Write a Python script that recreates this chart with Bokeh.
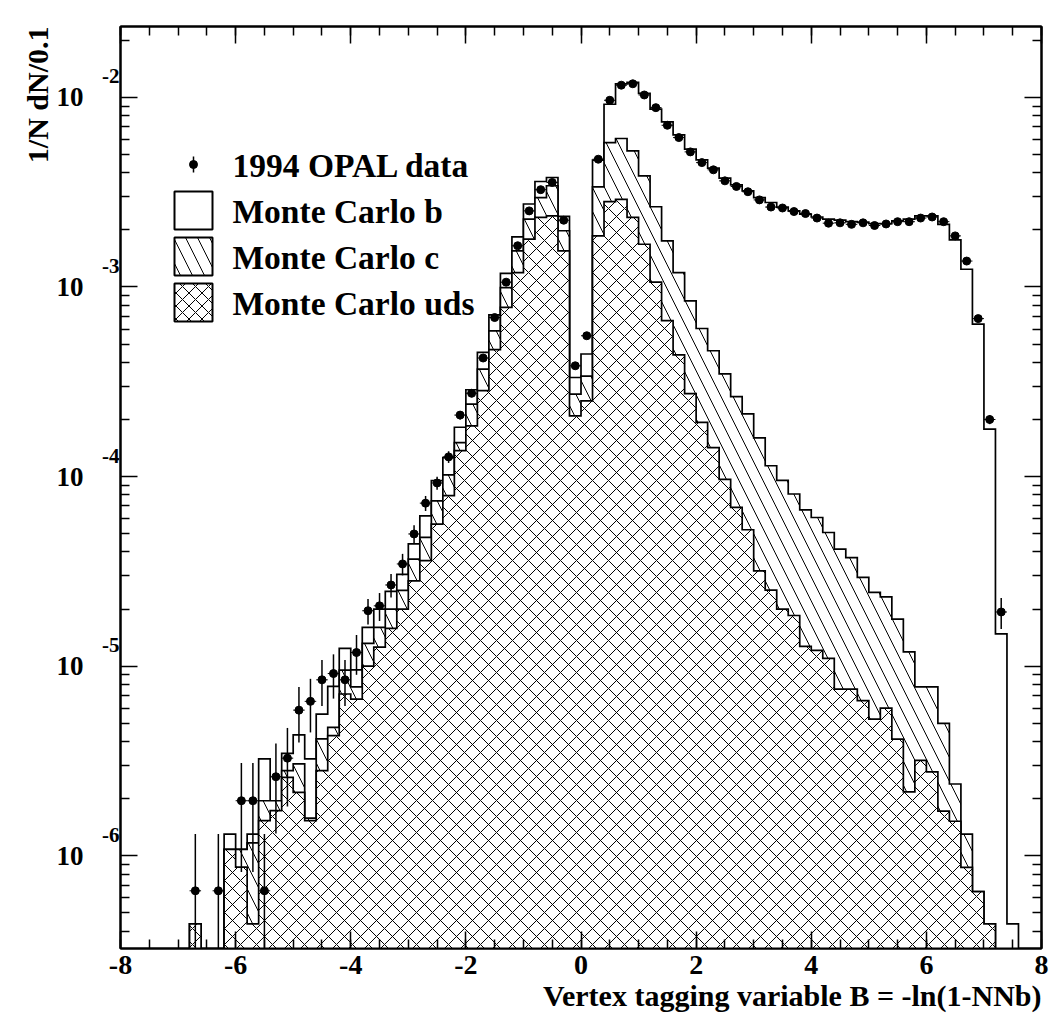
import math
from bokeh.plotting import figure
from bokeh.models import Range1d, FixedTicker, LinearAxis, LogAxis, Title, Grid
from bokeh.core.properties import value
from bokeh.embed import file_html
from bokeh.resources import INLINE

# ---------------- data ----------------
bin_centers = [
    -6.9, -6.7, -6.5, -6.3, -6.1, -5.9, -5.7, -5.5, -5.3, -5.1,
    -4.9, -4.7, -4.5, -4.3, -4.1, -3.9, -3.7, -3.5, -3.3, -3.1,
    -2.9, -2.7, -2.5, -2.3, -2.1, -1.9, -1.7, -1.5, -1.3, -1.1,
    -0.9, -0.7, -0.5, -0.3, -0.1, 0.1, 0.3, 0.5, 0.7, 0.9,
    1.1, 1.3, 1.5, 1.7, 1.9, 2.1, 2.3, 2.5, 2.7, 2.9,
    3.1, 3.3, 3.5, 3.7, 3.9, 4.1, 4.3, 4.5, 4.7, 4.9,
    5.1, 5.3, 5.5, 5.7, 5.9, 6.1, 6.3, 6.5, 6.7, 6.9,
    7.1, 7.3, 7.5,
]

# Monte Carlo b + c + uds (outer histogram)
mc_total = [
    0, 4.37e-7, 0, 0, 1.30e-6, 1.08e-6, 1.30e-6, 3.24e-6, 1.95e-6, 3.47e-6,
    4.34e-6, 3.24e-6, 5.58e-6, 7.82e-6, 1.24e-5, 9.55e-6, 1.60e-5, 2.00e-5, 2.48e-5, 3.05e-5,
    4.41e-5, 6.21e-5, 9.51e-5, 1.26e-4, 1.82e-4, 2.87e-4, 4.52e-4, 7.13e-4, 1.18e-3, 1.84e-3,
    2.74e-3, 3.60e-3, 3.78e-3, 2.36e-3, 3.33e-4, 4.43e-4, 4.67e-3, 9.20e-3, 1.18e-2, 1.20e-2,
    1.05e-2, 8.67e-3, 7.43e-3, 6.34e-3, 5.33e-3, 4.68e-3, 4.24e-3, 3.75e-3, 3.46e-3, 3.21e-3,
    2.96e-3, 2.79e-3, 2.64e-3, 2.52e-3, 2.42e-3, 2.34e-3, 2.28e-3, 2.25e-3, 2.21e-3, 2.20e-3,
    2.16e-3, 2.16e-3, 2.23e-3, 2.28e-3, 2.37e-3, 2.37e-3, 2.14e-3, 1.77e-3, 1.24e-3, 6.37e-4,
    1.78e-4, 1.48e-5, 4.37e-7,
]

# Monte Carlo c + uds
mc_c_uds = [
    0, 4.37e-7, 0, 0, 1.08e-6, 1.08e-6, 1.17e-6, 1.95e-6, 1.95e-6, 2.81e-6,
    3.05e-6, 1.58e-6, 4.13e-6, 4.75e-6, 9.53e-6, 7.78e-6, 1.32e-5, 1.60e-5, 2.00e-5, 2.51e-5,
    3.67e-5, 4.78e-5, 7.45e-5, 1.02e-4, 1.51e-4, 2.41e-4, 3.69e-4, 5.87e-4, 9.93e-4, 1.55e-3,
    2.28e-3, 2.96e-3, 3.42e-3, 1.98e-3, 2.72e-4, 3.39e-4, 3.37e-3, 5.78e-3, 6.07e-3, 5.22e-3,
    3.86e-3, 2.65e-3, 1.75e-3, 1.19e-3, 8.45e-4, 6.04e-4, 4.61e-4, 3.48e-4, 2.64e-4, 2.14e-4,
    1.60e-4, 1.14e-4, 9.55e-5, 8.09e-5, 6.67e-5, 6.08e-5, 5.07e-5, 4.14e-5, 3.74e-5, 2.94e-5,
    2.45e-5, 2.32e-5, 1.77e-5, 1.19e-5, 7.78e-6, 7.78e-6, 4.99e-6, 2.39e-6, 1.30e-6, 6.46e-7,
    4.37e-7, 0, 0,
]

# Monte Carlo uds
mc_uds = [
    0, 4.37e-7, 0, 0, 1.08e-6, 8.71e-7, 4.37e-7, 1.53e-6, 1.73e-6, 2.59e-6,
    2.16e-6, 1.53e-6, 2.81e-6, 4.30e-6, 7.13e-6, 6.70e-6, 1.00e-5, 1.26e-5, 1.58e-5, 2.00e-5,
    2.82e-5, 3.60e-5, 5.61e-5, 7.94e-5, 1.37e-4, 1.85e-4, 2.84e-4, 4.67e-4, 7.80e-4, 1.19e-3,
    1.79e-3, 2.33e-3, 2.37e-3, 1.55e-3, 2.09e-4, 2.51e-4, 1.86e-3, 2.82e-3, 2.90e-3, 2.33e-3,
    1.68e-3, 1.06e-3, 6.64e-4, 4.38e-4, 2.74e-4, 1.93e-4, 1.42e-4, 9.66e-5, 6.87e-5, 5.24e-5,
    3.18e-5, 2.52e-5, 2.00e-5, 1.85e-5, 1.27e-5, 1.21e-5, 1.10e-5, 7.57e-6, 7.57e-6, 6.58e-6,
    5.26e-6, 6.01e-6, 4.12e-6, 2.17e-6, 3.18e-6, 2.77e-6, 1.72e-6, 1.52e-6, 8.67e-7, 6.46e-7,
    4.37e-7, 0, 0,
]

# 1994 OPAL data (None = no entry) and its errors
data_vals = [
    None, 6.53e-7, None, 6.53e-7, None, 1.95e-6, 1.95e-6, 6.53e-7, 2.61e-6, 3.27e-6,
    5.86e-6, 6.52e-6, 8.47e-6, 9.14e-6, 8.47e-6, 1.18e-5, 1.96e-5, 2.08e-5, 2.68e-5, 3.46e-5,
    4.98e-5, 7.24e-5, 9.25e-5, 1.27e-4, 2.11e-4, 2.75e-4, 4.22e-4, 6.90e-4, 1.06e-3, 1.65e-3,
    2.52e-3, 3.26e-3, 3.56e-3, 2.25e-3, 3.84e-4, 5.53e-4, 4.72e-3, 9.66e-3, 1.16e-2, 1.18e-2,
    1.03e-2, 8.83e-3, 7.13e-3, 6.14e-3, 5.16e-3, 4.53e-3, 4.15e-3, 3.63e-3, 3.39e-3, 3.18e-3,
    2.88e-3, 2.64e-3, 2.61e-3, 2.50e-3, 2.44e-3, 2.31e-3, 2.17e-3, 2.18e-3, 2.14e-3, 2.18e-3,
    2.11e-3, 2.15e-3, 2.21e-3, 2.21e-3, 2.31e-3, 2.34e-3, 2.21e-3, 1.86e-3, 1.37e-3, 6.81e-4,
    2.00e-4, 1.93e-5, None,
]
data_errs = [
    None, 6.5e-7, None, 6.5e-7, None, 1.13e-6, 1.13e-6, 6.5e-7, 1.3e-6, 1.45e-6,
    1.9e-6, 2.05e-6, 2.3e-6, 2.4e-6, 2.3e-6, 2.8e-6, 3.0e-6, 3.5e-6, 3.8e-6, 4.5e-6,
    5.5e-6, 6.6e-6, 7.2e-6, 9.0e-6, 1.1e-5, 1.3e-5, 1.6e-5, 2.1e-5, 2.6e-5, 3.3e-5,
    4.1e-5, 4.6e-5, 4.8e-5, 3.8e-5, 1.6e-5, 1.9e-5, 5.6e-5, 7.9e-5, 8.7e-5, 8.8e-5,
    8.2e-5, 7.6e-5, 6.8e-5, 6.3e-5, 5.8e-5, 5.4e-5, 5.2e-5, 4.9e-5, 4.7e-5, 4.6e-5,
    4.3e-5, 4.2e-5, 4.1e-5, 4.0e-5, 4.0e-5, 3.9e-5, 3.8e-5, 3.8e-5, 3.7e-5, 3.8e-5,
    3.7e-5, 3.7e-5, 3.8e-5, 3.8e-5, 3.9e-5, 3.9e-5, 3.8e-5, 3.5e-5, 3.0e-5, 2.1e-5,
    1.1e-5, 3.6e-6, None,
]

x_ticks = [-8, -6, -4, -2, 0, 2, 4, 6, 8]
x_tick_labels = ["-8", "-6", "-4", "-2", "0", "2", "4", "6", "8"]
y_ticks = [1e-6, 1e-5, 1e-4, 1e-3, 1e-2]
y_tick_bases = ["10", "10", "10", "10", "10"]
y_tick_exponents = ["-6", "-5", "-4", "-3", "-2"]
legend_labels = ["1994 OPAL data", "Monte Carlo b", "Monte Carlo c", "Monte Carlo uds"]
x_title = "Vertex tagging variable B = -ln(1-NNb)"
y_title = "1/N dN/0.1"

# ---------------- geometry / style ----------------
FONT = "Liberation Serif"
BIN_W = 0.2
X_MIN, X_MAX = -8.0, 8.0
Y_MIN, Y_MAX = 3.24e-7, 2.366e-2
FLOOR = 1e-8
W, H = 1052, 1019
ML, MR, MT, MB = 120, 11, 26, 71
FW, FH = W - ML - MR, H - MT - MB
PX_X = FW / (X_MAX - X_MIN)
PX_DEC = FH / (math.log10(Y_MAX) - math.log10(Y_MIN))


def xd(px):
    return X_MIN + (px - ML) / PX_X


def yd(py):
    return 10 ** (math.log10(Y_MAX) - (py - MT) / PX_DEC)


def step_polygon(centers, vals):
    xs = [centers[0] - BIN_W / 2]
    ys = [FLOOR]
    for c, v in zip(centers, vals):
        v = v if v and v > 0 else FLOOR
        xs += [c - BIN_W / 2, c + BIN_W / 2]
        ys += [v, v]
    xs.append(centers[-1] + BIN_W / 2)
    ys.append(FLOOR)
    return xs, ys


p = figure(
    width=W, height=H,
    x_range=Range1d(X_MIN, X_MAX), y_range=Range1d(Y_MIN, Y_MAX),
    y_axis_type="log", y_axis_location=None,
    output_backend="svg", toolbar_location=None,
    min_border_left=ML, min_border_right=MR, min_border_top=MT, min_border_bottom=MB,
    background_fill_color="white", border_fill_color="white",
)
for obj in p.center:
    if isinstance(obj, Grid):
        obj.visible = False
p.outline_line_color = "black"
p.outline_line_width = 2

OUT_W = 1.7
C_HATCH = 24
UDS_HATCH = 16
hist_style = dict(line_color="black", line_width=OUT_W, line_join="miter", fill_color="white")

# Monte Carlo b (total)
xs, ys = step_polygon(bin_centers, mc_total)
p.patch(xs, ys, **hist_style)
# Monte Carlo c (c+uds), single hatch
xs, ys = step_polygon(bin_centers, mc_c_uds)
p.patch(xs, ys, hatch_pattern="\\", hatch_color="black", hatch_scale=C_HATCH, hatch_weight=1, **hist_style)
# Monte Carlo uds, cross hatch
xs, ys = step_polygon(bin_centers, mc_uds)
p.patch(xs, ys, hatch_pattern="x", hatch_color="black", hatch_scale=UDS_HATCH, hatch_weight=1, **hist_style)

# data points with errors
dx, dy, ylo, yhi = [], [], [], []
for c, v, e in zip(bin_centers, data_vals, data_errs):
    if v is None:
        continue
    dx.append(c)
    dy.append(v)
    ylo.append(max(v - e, FLOOR))
    yhi.append(v + e)
p.segment(x0=dx, y0=ylo, x1=dx, y1=yhi, line_color="black", line_width=1.5)
p.segment(x0=[c - BIN_W / 2 for c in dx], y0=dy, x1=[c + BIN_W / 2 for c in dx], y1=dy,
          line_color="black", line_width=1)
p.scatter(dx, dy, marker="circle", size=8, fill_color="black", line_color="black")

# ---------------- legend ----------------
LEG_X_BOX0, LEG_X_BOX1 = 174, 212
LEG_ROWS = [164, 210, 256, 302]
LEG_HALF = 19
LEG_TEXT_X = 232
p.scatter([xd(193)], [yd(LEG_ROWS[0])], marker="circle", size=8, fill_color="black", line_color="black")
p.segment(x0=[xd(193)], y0=[yd(LEG_ROWS[0] - 8)], x1=[xd(193)], y1=[yd(LEG_ROWS[0] + 8)],
          line_color="black", line_width=1.5)
box_styles = [dict(), dict(hatch_pattern="\\", hatch_scale=C_HATCH), dict(hatch_pattern="x", hatch_scale=13)]
for row, st in zip(LEG_ROWS[1:], box_styles):
    p.quad(left=[xd(LEG_X_BOX0)], right=[xd(LEG_X_BOX1)],
           top=[yd(row - LEG_HALF)], bottom=[yd(row + LEG_HALF)],
           fill_color="white", line_color="black", line_width=2,
           hatch_color="black", hatch_weight=1, **st)
p.text(x=[xd(LEG_TEXT_X)] * 4, y=[yd(r + 1) for r in LEG_ROWS], text=legend_labels,
       text_font=value(FONT), text_font_style="bold", text_font_size="33.5px",
       text_baseline="middle", text_align="left", text_color="black")

# ---------------- axes ----------------
x_minor = [X_MIN + 0.5 * i for i in range(33)]
y_minor = [k * 10.0 ** e for e in range(-7, -1) for k in range(2, 10)]
x_ticker = FixedTicker(ticks=x_ticks, minor_ticks=x_minor)
y_ticker = FixedTicker(ticks=y_ticks, minor_ticks=y_minor)

tick_axis = dict(
    axis_line_color="black", axis_line_width=2,
    major_tick_line_color="black", major_tick_line_width=1.5,
    minor_tick_line_color="black", minor_tick_line_width=1.5,
    major_tick_in=17, major_tick_out=0, minor_tick_in=9, minor_tick_out=0,
)
hidden_labels = dict(major_label_text_font_size="1px", major_label_text_color=None, major_label_standoff=0)
label_only = dict(
    axis_line_color=None, major_tick_line_color=None, minor_tick_line_color=None,
    major_tick_in=0, major_tick_out=0, minor_tick_in=0, minor_tick_out=0,
    major_label_text_font=FONT, major_label_text_font_style="bold", major_label_text_color="black",
)
no_lines = dict(
    axis_line_color=None, major_tick_line_color=None, minor_tick_line_color=None,
    major_tick_in=0, major_tick_out=0, minor_tick_in=0, minor_tick_out=0,
)

# bottom axis with labels
xa = p.xaxis[0]
xa.ticker = x_ticker
xa.major_label_overrides = {t: s for t, s in zip(x_ticks, x_tick_labels)}
xa.major_label_text_font = FONT
xa.major_label_text_font_style = "bold"
xa.major_label_text_font_size = "28px"
xa.major_label_text_color = "black"
xa.major_label_standoff = 7
for k, v in tick_axis.items():
    setattr(xa, k, v)

# left: tick axis (innermost), exponent labels, then "10" labels
p.add_layout(LogAxis(ticker=y_ticker, **tick_axis, **hidden_labels), "left")
EXP_RAISE = 10 ** (21 / PX_DEC)
exp_ticks = [t * EXP_RAISE for t in y_ticks]
p.add_layout(LogAxis(ticker=FixedTicker(ticks=exp_ticks, minor_ticks=[]),
                     major_label_overrides={t: s for t, s in zip(exp_ticks, y_tick_exponents)},
                     major_label_text_font_size="21px", major_label_standoff=1, **label_only), "left")
p.add_layout(LogAxis(ticker=FixedTicker(ticks=y_ticks, minor_ticks=[]),
                     major_label_overrides={t: s for t, s in zip(y_ticks, y_tick_bases)},
                     major_label_text_font_size="27px", major_label_standoff=16, **label_only), "left")
# empty spacer axis that pushes the y title outward
p.add_layout(LogAxis(ticker=FixedTicker(ticks=y_ticks, minor_ticks=[]),
                     major_label_text_font_size="1px", major_label_text_color=None,
                     major_label_standoff=11, **no_lines), "left")

# mirrored axes on top and right: ticks only
p.add_layout(LinearAxis(ticker=x_ticker, **tick_axis, **hidden_labels), "above")
p.add_layout(LogAxis(ticker=y_ticker, **tick_axis, **hidden_labels), "right")

# axis titles
p.add_layout(Title(text=x_title, align="right", text_font=FONT, text_font_style="bold",
                   text_font_size="30px", text_color="black", standoff=0), "below")
p.add_layout(Title(text=y_title, align="right", text_font=FONT,
                   text_font_style="bold", text_font_size="30px", text_color="black",
                   standoff=0), "left")

open("out.html", "w").write(file_html(p, INLINE))
